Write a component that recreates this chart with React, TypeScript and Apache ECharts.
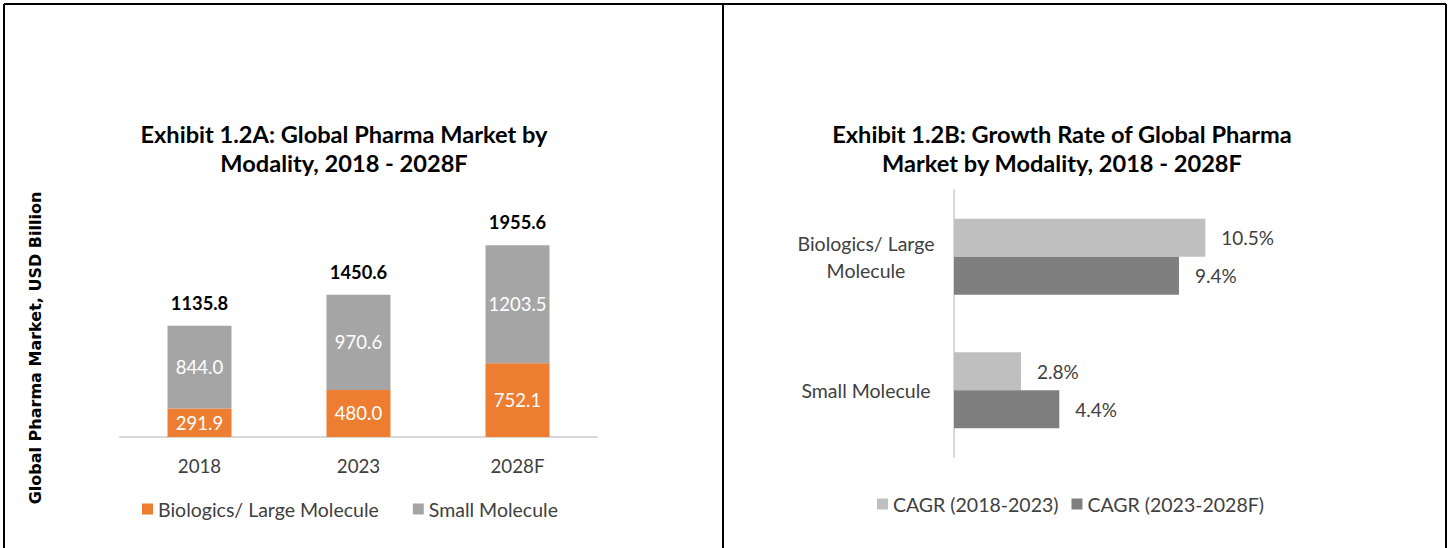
import React, { useEffect, useRef } from 'react';
import * as echarts from 'echarts';

const years = ['2018', '2023', '2028F'];
const biologics = [291.9, 480.0, 752.1];
const smallMolecule = [844.0, 970.6, 1203.5];
const totals = [1135.8, 1450.6, 1955.6];

const modalities = ['Biologics/ Large Molecule', 'Small Molecule'];
const cagr2018_2023 = [10.5, 2.8];
const cagr2023_2028 = [9.4, 4.4];

const FONT = 'Lato';
const TXT = '#404040';

export default function App() {
  const ref = useRef<HTMLDivElement>(null);
  useEffect(() => {
    const chart = echarts.init(ref.current!, null, { renderer: 'svg' });
    const option: any = {
      animation: false,
      textStyle: { fontFamily: FONT },
      graphic: [
        { type: 'line', shape: { x1: 4, y1: 4, x2: 1446, y2: 4 }, style: { stroke: '#000', lineWidth: 2 } },
        { type: 'line', shape: { x1: 4, y1: 4, x2: 4, y2: 548 }, style: { stroke: '#000', lineWidth: 2 } },
        { type: 'line', shape: { x1: 723, y1: 4, x2: 723, y2: 548 }, style: { stroke: '#000', lineWidth: 2 } },
        { type: 'line', shape: { x1: 1446, y1: 4, x2: 1446, y2: 548 }, style: { stroke: '#000', lineWidth: 2 } },
        {
          type: 'text', x: 344, y: 148.5,
          style: {
            text: 'Exhibit 1.2A: Global Pharma Market by\nModality, 2018 - 2028F',
            font: `bold 23.6px ${FONT}`, fill: '#000', align: 'center', verticalAlign: 'middle', lineHeight: 29,
          },
        },
        {
          type: 'text', x: 1062, y: 148.5,
          style: {
            text: 'Exhibit 1.2B: Growth Rate of Global Pharma\nMarket by Modality, 2018 - 2028F',
            font: `bold 23.6px ${FONT}`, fill: '#000', align: 'center', verticalAlign: 'middle', lineHeight: 29,
          },
        },
        {
          type: 'text', x: 35, y: 348, rotation: Math.PI / 2,
          style: {
            text: 'Global Pharma Market, USD Billion',
            font: 'bold 16px "DejaVu Sans"', fill: '#000', align: 'center', verticalAlign: 'middle',
          },
        },
      ],
      legend: [
        {
          data: ['Biologics/ Large Molecule', 'Small Molecule'],
          left: 137, top: 494, itemWidth: 11, itemHeight: 11, itemGap: 34,
          icon: 'rect',
          textStyle: { fontSize: 19.5, color: TXT, fontFamily: FONT },
        },
        {
          data: ['CAGR (2018-2023)', 'CAGR (2023-2028F)'],
          left: 872, top: 489, itemWidth: 11, itemHeight: 11, itemGap: 13,
          icon: 'rect',
          textStyle: { fontSize: 19.5, color: TXT, fontFamily: FONT },
        },
      ],
      grid: [
        { left: 120, top: 192, width: 477, height: 245 },
        { left: 954, top: 190, width: 359, height: 267 },
      ],
      xAxis: [
        {
          type: 'category', gridIndex: 0, data: years,
          axisLine: { lineStyle: { color: '#D9D9D9', width: 2 } },
          axisTick: { show: false },
          axisLabel: { fontSize: 18.7, color: TXT, margin: 19, fontFamily: FONT },
        },
        {
          type: 'value', gridIndex: 1, min: 0, max: 15, show: false,
          splitLine: { show: false },
        },
      ],
      yAxis: [
        { type: 'value', gridIndex: 0, min: 0, max: 2500, show: false, splitLine: { show: false } },
        {
          type: 'category', gridIndex: 1, data: modalities, inverse: true,
          axisLine: { lineStyle: { color: '#D9D9D9', width: 2 } },
          axisTick: { show: false },
          axisLabel: {
            fontSize: 19.5, color: TXT, margin: 88, align: 'center', lineHeight: 27, fontFamily: FONT,
            formatter: (v: string) => v.replace('/ Large ', '/ Large\n'),
          },
        },
      ],
      series: [
        {
          name: 'Biologics/ Large Molecule', type: 'bar', stack: 'total', xAxisIndex: 0, yAxisIndex: 0,
          data: biologics, barWidth: 64, itemStyle: { color: '#ED7D31' },
          label: { show: true, position: 'inside', color: '#fff', fontSize: 18.5, fontFamily: FONT, formatter: (p: any) => p.value.toFixed(1) },
        },
        {
          name: 'Small Molecule', type: 'bar', stack: 'total', xAxisIndex: 0, yAxisIndex: 0,
          data: smallMolecule, barWidth: 64, itemStyle: { color: '#A5A5A5' },
          label: { show: true, position: 'inside', color: '#fff', fontSize: 18.5, fontFamily: FONT, formatter: (p: any) => p.value.toFixed(1) },
        },
        {
          name: 'Total', type: 'bar', xAxisIndex: 0, yAxisIndex: 0, barGap: '-100%',
          data: totals, barWidth: 64, itemStyle: { color: 'rgba(0,0,0,0)' },
          label: { show: true, position: 'top', distance: 14, color: '#000', fontWeight: 'bold', fontSize: 18.3, fontFamily: FONT, formatter: (p: any) => p.value.toFixed(1) },
          silent: true, z: 1,
        },
        {
          name: 'CAGR (2018-2023)', type: 'bar', xAxisIndex: 1, yAxisIndex: 1,
          data: cagr2018_2023, barWidth: 38, barGap: '0%', itemStyle: { color: '#BFBFBF' },
          label: { show: true, position: 'right', distance: 16, color: TXT, fontSize: 19, fontFamily: FONT, formatter: (p: any) => p.value.toFixed(1) + '%' },
        },
        {
          name: 'CAGR (2023-2028F)', type: 'bar', xAxisIndex: 1, yAxisIndex: 1,
          data: cagr2023_2028, barWidth: 38, barGap: '0%', itemStyle: { color: '#7F7F7F' },
          label: { show: true, position: 'right', distance: 16, color: TXT, fontSize: 19, fontFamily: FONT, formatter: (p: any) => p.value.toFixed(1) + '%' },
        },
      ],
    };
    chart.setOption(option);
    return () => chart.dispose();
  }, []);
  return (
    <div
      ref={ref}
      style={{ position: 'fixed', left: 0, top: 0, width: 1450, height: 548, background: '#fff' }}
    />
  );
}
